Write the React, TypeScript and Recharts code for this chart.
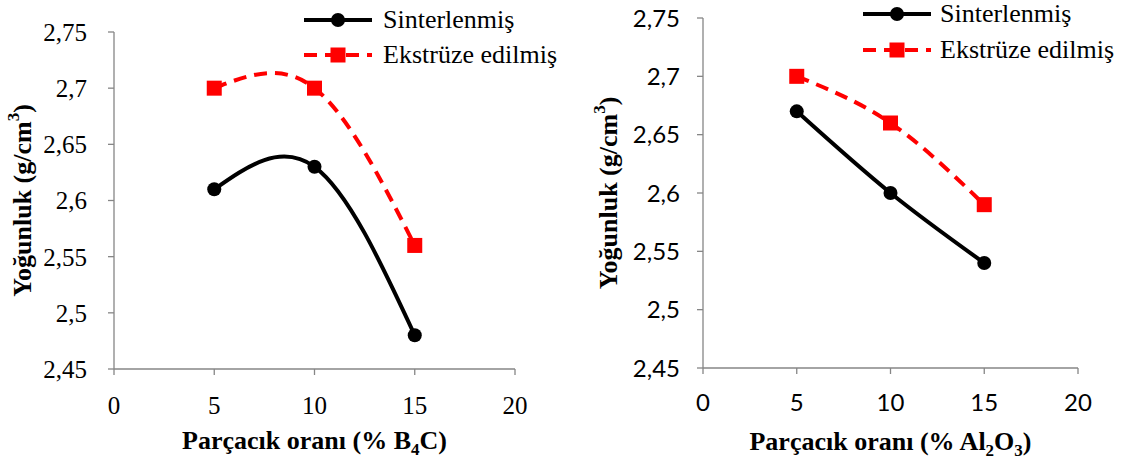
import React from 'react';
import { LineChart, Line, XAxis, YAxis } from 'recharts';

// x: particle ratio (%)
const particleRatio = [5, 10, 15];

// left panel: B4C
const b4cSinter = [2.61, 2.63, 2.48];
const b4cExtruded = [2.7, 2.7, 2.56];

// right panel: Al2O3
const al2o3Sinter = [2.67, 2.6, 2.54];
const al2o3Extruded = [2.7, 2.66, 2.59];

const seriesNames = ['Sinterlenmiş', 'Ekstrüze edilmiş'];
const xTicks = [0, 5, 10, 15, 20];
const yTicks = [2.45, 2.5, 2.55, 2.6, 2.65, 2.7, 2.75];

const b4cData = particleRatio.map((x, i) => ({ x, sinter: b4cSinter[i], extruded: b4cExtruded[i] }));
const al2o3Data = particleRatio.map((x, i) => ({ x, sinter: al2o3Sinter[i], extruded: al2o3Extruded[i] }));

const SERIF = 'Liberation Serif';
const SANS = 'Lato';
const AXIS_GRAY = '#868686';

const fmtComma = (v: number) => String(Number(v.toFixed(2))).replace('.', ',');

const SquareDot = (props: any) => {
  const { cx, cy, index } = props;
  if (cx == null || cy == null) return <g key={index} />;
  return <rect key={index} x={cx - 7.5} y={cy - 7.5} width={15} height={15} fill="#ff0000" />;
};

function LegendBox({ left, top, rowGap, lineW, gap }: { left: number; top: number; rowGap: number; lineW: number; gap: number }) {
  return (
    <div style={{ position: 'absolute', left, top, fontFamily: SERIF, fontSize: 26, color: '#000', lineHeight: 1 }}>
      {seriesNames.map((name, i) => (
        <div key={name} style={{ display: 'flex', alignItems: 'center', height: rowGap, whiteSpace: 'nowrap' }}>
          <svg width={lineW} height={20} style={{ marginRight: gap }}>
            {i === 0 ? (
              <>
                <line x1={0} x2={lineW} y1={10} y2={10} stroke="#000" strokeWidth={4} />
                <circle cx={lineW / 2} cy={10} r={7} fill="#000" />
              </>
            ) : (
              <>
                <line x1={0} x2={lineW} y1={10} y2={10} stroke="#ff0000" strokeWidth={4} strokeDasharray="13 8" />
                <rect x={lineW / 2 - 7.5} y={2.5} width={15} height={15} fill="#ff0000" />
              </>
            )}
          </svg>
          <span>{name}</span>
        </div>
      ))}
    </div>
  );
}

function Panel({ data, width, margin, tickFont, tickFontSize, tickMargin, xTitle, yTitleDx, xTitleDy }: any) {
  const yTitle = ({ viewBox }: any) => {
    const cx = viewBox.x + yTitleDx;
    const cy = viewBox.y + viewBox.height / 2;
    return (
      <text x={cx} y={cy} transform={`rotate(-90 ${cx} ${cy})`} textAnchor="middle" dominantBaseline="central"
        fontFamily={SERIF} fontWeight="bold" fontSize={26} fill="#000">
        Yoğunluk (g/cm<tspan dy={-9} fontSize={17}>3</tspan><tspan dy={9}>)</tspan>
      </text>
    );
  };
  const xLabel = ({ viewBox }: any) => {
    const cx = viewBox.x + viewBox.width / 2;
    const y = viewBox.y + xTitleDy;
    return (
      <text x={cx} y={y} textAnchor="middle" fontFamily={SERIF} fontWeight="bold" fontSize={26} fill="#000">
        {xTitle}
      </text>
    );
  };
  const tickStyle = { fill: '#000', fontFamily: tickFont, fontSize: tickFontSize };

  return (
    <LineChart width={width} height={461} data={data} margin={margin}>
      <XAxis
        dataKey="x"
        type="number"
        domain={[0, 20]}
        ticks={xTicks}
        height={80}
        stroke={AXIS_GRAY}
        strokeWidth={1.3}
        tickSize={6}
        tickMargin={tickMargin.x}
        tick={tickStyle}
        label={xLabel}
      />
      <YAxis
        type="number"
        domain={[2.45, 2.75]}
        ticks={yTicks}
        width={60}
        stroke={AXIS_GRAY}
        strokeWidth={1.3}
        tickSize={6}
        tickMargin={tickMargin.y}
        tickFormatter={fmtComma}
        tick={tickStyle}
        label={yTitle}
      />
      <Line
        dataKey="sinter"
        name={seriesNames[0]}
        type="natural"
        stroke="#000"
        strokeWidth={4}
        dot={{ r: 7, fill: '#000', stroke: '#000', strokeWidth: 0 }}
        activeDot={false}
        isAnimationActive={false}
      />
      <Line
        dataKey="extruded"
        name={seriesNames[1]}
        type="natural"
        stroke="#ff0000"
        strokeWidth={4}
        strokeDasharray="13 8"
        dot={SquareDot}
        activeDot={false}
        isAnimationActive={false}
      />
    </LineChart>
  );
}

export default function App() {
  return (
    <div style={{ position: 'fixed', left: 0, top: 0, width: 1126, height: 461, background: '#fff', overflow: 'hidden' }}>
      <div style={{ position: 'absolute', left: 0, top: 0 }}>
        <Panel
          data={b4cData}
          width={560}
          margin={{ top: 32, right: 45, bottom: 12, left: 54 }}
          tickFont={SERIF}
          tickFontSize={25}
          tickMargin={{ x: 21, y: 21 }}
          xTitle={<>Parçacık oranı (% B<tspan dy={6} fontSize={17}>4</tspan><tspan dy={-6}>C)</tspan></>}
          yTitleDx={-32}
          xTitleDy={80}
        />
      </div>
      <LegendBox left={304} top={2.5} rowGap={35} lineW={68} gap={11} />
      <div style={{ position: 'absolute', left: 560, top: 0 }}>
        <Panel
          data={al2o3Data}
          width={566}
          margin={{ top: 18, right: 48, bottom: 13, left: 83 }}
          tickFont={SANS}
          tickFontSize={24}
          tickMargin={{ x: 20, y: 17 }}
          xTitle={<>Parçacık oranı (% Al<tspan dy={6} fontSize={17}>2</tspan><tspan dy={-6}>O</tspan><tspan dy={6} fontSize={17}>3</tspan><tspan dy={-6}>)</tspan></>}
          yTitleDx={-35}
          xTitleDy={82}
        />
      </div>
      <LegendBox left={863} top={-4} rowGap={36} lineW={68} gap={9} />
    </div>
  );
}
